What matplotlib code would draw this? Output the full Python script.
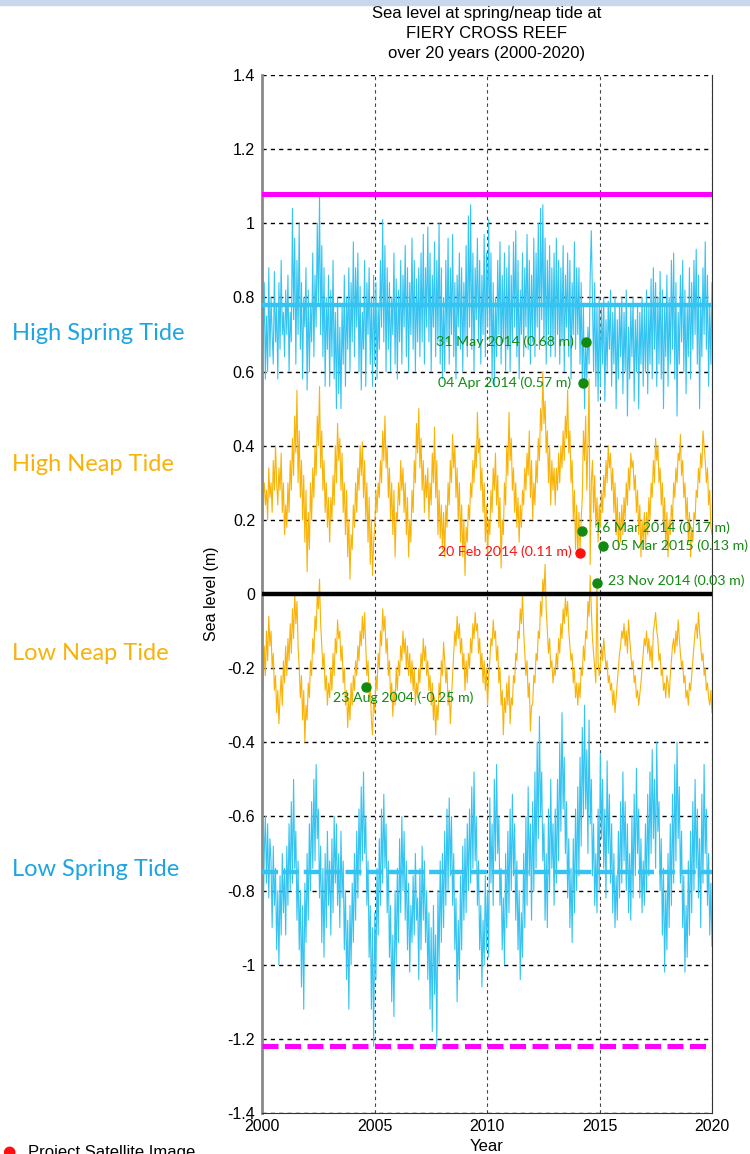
import numpy as np
import matplotlib
matplotlib.use('Agg')
import matplotlib.pyplot as plt
from matplotlib.patches import Rectangle

plt.rcParams['axes.unicode_minus'] = False

# sea level values, in cm, 20 readings per year (2000-2019)
high_spring_cm = [
    92, 66, 84, 58, 75, 60, 88, 64, 80, 70, 62, 87, 68, 78, 58, 84, 66, 90, 70, 76,
    64, 82, 70, 86, 60, 76, 68, 104, 74, 96, 62, 90, 70, 100, 66, 84, 58, 80, 72, 88,
    55, 82, 60, 78, 68, 92, 64, 86, 72, 100, 78, 107, 70, 94, 64, 88, 56, 80, 66, 86,
    56, 82, 64, 90, 58, 76, 50, 80, 54, 72, 50, 78, 62, 86, 56, 80, 66, 88, 60, 84,
    68, 95, 64, 88, 72, 92, 60, 83, 55, 76, 66, 90, 56, 84, 70, 88, 62, 80, 56, 86,
    62, 84, 58, 78, 66, 90, 72, 101, 68, 94, 60, 88, 66, 84, 60, 80, 70, 92, 62, 85,
    58, 82, 68, 90, 62, 86, 72, 94, 64, 88, 60, 84, 70, 96, 66, 90, 60, 85, 68, 88,
    64, 92, 68, 97, 62, 88, 72, 99, 68, 92, 60, 86, 72, 95, 64, 90, 68, 100, 62, 88,
    58, 80, 60, 90, 68, 96, 62, 88, 70, 97, 64, 84, 58, 86, 72, 92, 66, 88, 60, 84,
    68, 94, 64, 102, 72, 105, 66, 92, 60, 88, 74, 96, 68, 90, 62, 86, 70, 97, 64, 92,
    72, 101, 68, 92, 58, 84, 56, 80, 64, 90, 70, 95, 62, 86, 68, 92, 60, 88, 66, 94,
    60, 86, 68, 95, 72, 98, 64, 90, 58, 82, 70, 92, 64, 88, 72, 97, 66, 90, 62, 86,
    68, 96, 64, 92, 72, 100, 66, 104, 74, 105, 68, 96, 62, 90, 70, 94, 64, 88, 68, 92,
    64, 96, 70, 90, 62, 88, 68, 94, 60, 86, 72, 92, 64, 90, 58, 84, 70, 95, 66, 88,
    70, 88, 62, 84, 56, 78, 50, 68, 58, 72, 62, 86, 98, 80, 60, 84, 56, 78, 52, 80,
    56, 78, 62, 80, 52, 74, 60, 79, 66, 82, 56, 76, 62, 80, 50, 74, 58, 78, 64, 80,
    54, 76, 60, 82, 48, 72, 58, 78, 64, 80, 52, 74, 60, 78, 50, 76, 62, 80, 56, 78,
    60, 82, 54, 78, 62, 85, 58, 88, 66, 84, 56, 80, 62, 87, 58, 82, 50, 78, 64, 86,
    56, 80, 62, 90, 66, 92, 58, 84, 48, 76, 62, 86, 68, 90, 60, 82, 54, 78, 64, 88,
    58, 84, 66, 90, 70, 93, 62, 86, 50, 80, 64, 88, 70, 95, 66, 86, 56, 78, 62, 84,
]
high_neap_cm = [
    14, 26, 30, 24, 28, 20, 34, 26, 30, 22, 36, 28, 40, 30, 24, 34, 28, 38, 22, 30,
    16, 24, 18, 30, 22, 36, 28, 42, 32, 48, 38, 55, 30, 44, 26, 36, 20, 32, 14, 28,
    6, 22, 12, 30, 20, 34, 26, 40, 32, 48, 40, 56, 34, 44, 28, 36, 22, 30, 18, 26,
    14, 26, 20, 32, 24, 40, 30, 46, 36, 42, 28, 38, 22, 30, 16, 28, 10, 20, 4, 16,
    12, 24, 18, 30, 22, 34, 28, 40, 32, 41, 26, 36, 20, 30, 14, 26, 8, 20, 5, 14,
    18, 28, 22, 30, 26, 36, 30, 44, 36, 48, 34, 40, 26, 34, 20, 30, 16, 28, 10, 22,
    20, 30, 24, 36, 28, 34, 22, 30, 16, 26, 10, 20, 14, 28, 22, 36, 30, 46, 38, 50,
    34, 42, 28, 36, 22, 32, 26, 34, 20, 30, 24, 38, 30, 45, 26, 36, 16, 28, 15, 24,
    12, 22, 10, 24, 18, 30, 24, 36, 30, 43, 34, 40, 26, 34, 20, 30, 14, 24, 10, 20,
    5, 18, 14, 24, 20, 30, 26, 36, 30, 40, 34, 49, 38, 42, 28, 34, 22, 30, 14, 24,
    10, 20, 16, 28, 22, 34, 28, 38, 24, 32, 18, 26, 7, 20, 16, 30, 24, 40, 32, 49,
    36, 42, 28, 34, 22, 30, 18, 26, 14, 24, 18, 28, 24, 34, 28, 38, 32, 44, 26, 36,
    20, 30, 24, 36, 30, 42, 36, 50, 44, 60, 46, 52, 38, 44, 30, 40, 24, 36, 28, 34,
    24, 34, 28, 38, 30, 40, 34, 44, 36, 48, 42, 55, 38, 44, 30, 36, 20, 28, 12, 24,
    10, 22, 12, 20, 26, 44, 36, 48, 28, 40, 58, 8, 30, 36, 22, 32, 18, 26, 14, 24,
    18, 28, 22, 32, 26, 36, 30, 40, 34, 38, 28, 34, 22, 30, 16, 26, 12, 22, 14, 24,
    16, 26, 20, 30, 24, 34, 28, 38, 34, 36, 28, 32, 22, 28, 16, 24, 10, 20, 14, 22,
    12, 22, 16, 26, 20, 30, 26, 36, 30, 42, 36, 40, 30, 34, 24, 30, 18, 26, 12, 22,
    10, 20, 16, 24, 20, 30, 26, 34, 30, 38, 36, 43, 32, 36, 26, 30, 20, 26, 14, 22,
    10, 18, 14, 22, 20, 28, 26, 34, 30, 38, 34, 44, 40, 36, 30, 34, 24, 28, 18, 16,
]
low_neap_cm = [
    -20, -26, -14, -22, -10, -18, -6, -14, -10, -20, -16, -26, -22, -32, -26, -35, -28, -22, -30, -18,
    -24, -14, -22, -12, -18, -8, -16, -4, -12, 0, -8, -2, -14, -20, -28, -22, -34, -26, -40, -30,
    -34, -24, -28, -18, -22, -12, -16, -6, -10, 0, -4, 4, -8, -14, -20, -16, -26, -22, -30, -24,
    -28, -20, -26, -16, -22, -12, -16, -7, -12, -10, -18, -14, -24, -20, -30, -26, -36, -28, -34, -24,
    -30, -22, -26, -18, -22, -14, -18, -10, -14, -6, -12, -5, -14, -22, -18, -28, -24, -34, -38, -28,
    -32, -22, -26, -16, -20, -10, -14, -4, -10, -6, -16, -12, -22, -18, -28, -24, -33, -26, -30, -20,
    -26, -18, -22, -14, -18, -10, -16, -12, -20, -14, -22, -16, -24, -18, -26, -20, -30, -24, -28, -20,
    -24, -16, -20, -12, -18, -14, -22, -18, -26, -22, -30, -24, -34, -28, -38, -30, -34, -24, -28, -18,
    -22, -13, -18, -24, -20, -30, -26, -35, -28, -22, -16, -10, -14, -6, -12, -8, -16, -12, -20, -16,
    -26, -18, -24, -16, -20, -12, -16, -8, -12, -5, -10, -8, -16, -12, -20, -16, -24, -18, -26, -20,
    -30, -22, -18, -12, -14, -7, -12, -10, -18, -14, -24, -20, -30, -26, -38, -28, -32, -24, -30, -22,
    -35, -28, -30, -22, -24, -16, -18, -10, -12, -4, -8, 0, -10, -16, -22, -18, -28, -24, -37, -30,
    -30, -22, -24, -16, -18, -10, -12, -2, -6, 4, 0, 8, -4, -10, -16, -12, -20, -18, -24, -20,
    -22, -16, -20, -12, -16, -8, -12, -4, -8, -1, -6, -2, -10, -14, -18, -16, -24, -20, -28, -24,
    -30, -24, -28, -20, -22, -14, -18, -10, -12, -2, -6, 5, -4, -12, -16, -20, -24, 3, -18, -22,
    -20, -14, -18, -12, -16, -20, -18, -24, -22, -26, -24, -30, -26, -32, -28, -24, -20, -16, -14, -10,
    -12, -8, -14, -10, -16, -7, -12, -16, -20, -18, -24, -22, -28, -26, -30, -27, -24, -20, -16, -12,
    -14, -10, -16, -12, -18, -14, -20, -10, -8, -5, -10, -12, -18, -16, -22, -20, -26, -24, -28, -22,
    -24, -28, -22, -18, -14, -12, -16, -10, -14, -7, -12, -16, -20, -18, -24, -22, -28, -26, -30, -24,
    -26, -22, -18, -14, -10, -8, -12, -5, -10, -14, -18, -16, -22, -20, -26, -24, -28, -30, -26, -32,
]
low_spring_cm = [
    -65, -88, -70, -60, -78, -62, -82, -66, -72, -90, -68, -84, -74, -96, -80, -100, -76, -92, -70, -86,
    -74, -92, -68, -84, -62, -80, -56, -78, -50, -74, -64, -88, -72, -96, -80, -106, -84, -112, -78, -94,
    -70, -88, -62, -80, -56, -74, -50, -72, -46, -66, -58, -82, -68, -94, -74, -98, -70, -90, -64, -84,
    -72, -92, -66, -86, -60, -78, -62, -84, -70, -90, -64, -82, -72, -96, -80, -104, -88, -112, -84, -100,
    -78, -94, -70, -88, -64, -82, -58, -76, -52, -72, -48, -70, -60, -84, -72, -98, -84, -112, -90, -122,
    -86, -104, -74, -92, -66, -84, -58, -78, -54, -74, -62, -86, -72, -98, -84, -110, -92, -114, -80, -100,
    -74, -94, -66, -86, -60, -80, -64, -88, -72, -96, -78, -102, -84, -94, -76, -92, -70, -88, -82, -104,
    -74, -96, -68, -88, -72, -94, -80, -104, -86, -112, -90, -118, -84, -108, -92, -122, -80, -100, -72, -94,
    -70, -90, -64, -84, -58, -80, -55, -76, -60, -84, -70, -96, -82, -110, -88, -104, -76, -96, -68, -88,
    -66, -86, -62, -80, -58, -78, -52, -74, -48, -72, -60, -84, -72, -96, -84, -106, -88, -100, -76, -96,
    -80, -98, -55, -78, -62, -84, -50, -72, -46, -70, -60, -84, -74, -96, -82, -100, -70, -90, -64, -86,
    -58, -80, -54, -76, -62, -88, -72, -96, -80, -104, -86, -98, -70, -90, -60, -84, -52, -76, -62, -88,
    -56, -80, -48, -74, -40, -66, -33, -60, -48, -72, -62, -88, -70, -90, -58, -80, -50, -74, -62, -84,
    -58, -78, -50, -72, -40, -64, -32, -58, -44, -70, -56, -82, -66, -90, -74, -94, -66, -86, -58, -80,
    -52, -76, -44, -68, -36, -60, -30, -58, -42, -70, -34, -62, -50, -76, -62, -84, -70, -86, -58, -80,
    -43, -66, -50, -74, -58, -82, -45, -70, -54, -78, -62, -86, -70, -90, -76, -88, -64, -82, -56, -78,
    -48, -72, -56, -80, -62, -86, -70, -88, -60, -82, -54, -76, -47, -70, -58, -82, -66, -86, -72, -84,
    -62, -80, -54, -76, -48, -70, -42, -66, -50, -74, -40, -64, -56, -80, -66, -92, -74, -102, -80, -96,
    -70, -90, -62, -84, -54, -78, -46, -72, -40, -66, -52, -78, -64, -90, -76, -102, -84, -98, -72, -92,
    -64, -86, -56, -80, -50, -74, -58, -82, -66, -90, -54, -78, -46, -70, -58, -84, -70, -92, -78, -95,
]

# reference levels (m)
hat_level = 1.08
lat_level = -1.22
mhws_level = 0.78
mlws_level = -0.75

# marked dates (decimal year, sea level m, label)
green_years = [2014.41, 2014.255, 2014.205, 2015.173, 2014.893, 2004.643]
green_levels = [0.68, 0.57, 0.17, 0.13, 0.03, -0.25]
green_labels = ['31 May 2014 (0.68 m)', '04 Apr 2014 (0.57 m)', '16 Mar 2014 (0.17 m)',
                '05 Mar 2015 (0.13 m)', '23 Nov 2014 (0.03 m)', '23 Aug 2004 (-0.25 m)']
red_year, red_level, red_label = 2014.137, 0.11, '20 Feb 2014 (0.11 m)'

y_ticks = [-1.4, -1.2, -1.0, -0.8, -0.6, -0.4, -0.2, 0.0, 0.2, 0.4, 0.6, 0.8, 1.0, 1.2, 1.4]
x_ticks = [2000, 2005, 2010, 2015, 2020]

CYAN = '#35c4f2'
ORANGE = '#f9b308'
GREEN = '#128a12'
ARIAL = ['Liberation Sans', 'DejaVu Sans']
CAL = ['Lato', 'DejaVu Sans']

fig = plt.figure(figsize=(7.5, 11.54), dpi=100)
fig.patches.append(Rectangle((0, 1 - 5 / 1154), 1, 5 / 1154, transform=fig.transFigure,
                             color='#c8d7eb', zorder=0))
ax = fig.add_axes([262 / 750, 41 / 1154, 450 / 750, 1038 / 1154])

for vals in [high_spring_cm, high_neap_cm, low_neap_cm, low_spring_cm]:
    v = np.array(vals) / 100.0
    t = np.linspace(2000, 2020, len(v))
    col = CYAN if vals is high_spring_cm or vals is low_spring_cm else ORANGE
    ax.plot(t, v, color=col, lw=0.8, zorder=2)

ax.axhline(hat_level, color='#ff00ff', lw=3.6, zorder=3)
ax.axhline(lat_level, color='#ff00ff', lw=3.6, dashes=(3.2, 1.3), zorder=3)
ax.axhline(mhws_level, color=CYAN, lw=3.2, zorder=3)
ax.axhline(mlws_level, color=CYAN, lw=3.2, dashes=(3.6, 1.1), zorder=3)
ax.axhline(0, color='black', lw=3.2, zorder=3)

# green markers and labels
text_pos = [(2013.85, 0.68, 'right'), (2013.75, 0.57, 'right'), (2014.76, 0.18, 'left'),
            (2015.56, 0.13, 'left'), (2015.38, 0.035, 'left'), (2003.16, -0.28, 'left')]
for yr, lv, lab, (tx, ty, ha) in zip(green_years, green_levels, green_labels, text_pos):
    ax.plot(yr, lv, 'o', color=GREEN, ms=6.5, zorder=5)
    ax.text(tx, ty, lab, color=GREEN, fontsize=10.2, family=CAL, ha=ha, va='center', zorder=6)
ax.plot(red_year, red_level, 'o', color='#ff1010', ms=6.5, zorder=5)
ax.text(2013.75, 0.115, red_label, color='#ff1010', fontsize=10.2, family=CAL,
        ha='right', va='center', zorder=6)

ax.set_xlim(2000, 2020)
ax.set_ylim(-1.4, 1.4)
ax.set_xticks(x_ticks)
ax.set_yticks(y_ticks)
ax.set_yticklabels(['%g' % round(v, 1) for v in y_ticks])
ax.tick_params(length=0, pad=5, labelsize=11.5)
for lab in ax.get_xticklabels() + ax.get_yticklabels():
    lab.set_family(ARIAL)
ax.tick_params(axis='x', pad=4)
ax.grid(axis='y', color='black', ls=(0, (3, 3)), lw=1.0)
ax.grid(axis='x', color='#444444', ls=(0, (3, 3)), lw=0.8)
ax.spines['top'].set_visible(False)
ax.spines['left'].set_color('#8a8a8a')
ax.spines['left'].set_linewidth(2)
ax.spines['right'].set_color('#333333')
ax.spines['bottom'].set_color('#333333')

ax.set_xlabel('Year', family=ARIAL, fontsize=12, labelpad=4)
ax.set_ylabel('Sea level (m)', family=ARIAL, fontsize=11.5, labelpad=6)
ax.set_title('Sea level at spring/neap tide at\nFIERY CROSS REEF\nover 20 years (2000-2020)',
             family=ARIAL, fontsize=12, linespacing=1.45, pad=12)

# tide labels on the left
fig.text(12 / 750, 1 - 334 / 1154, 'High Spring Tide', color='#1ea5e0', fontsize=17,
         family=CAL, va='center')
fig.text(12 / 750, 1 - 465 / 1154, 'High Neap Tide', color='#f7b30a', fontsize=17,
         family=CAL, va='center')
fig.text(12 / 750, 1 - 654 / 1154, 'Low Neap Tide', color='#f7b30a', fontsize=17,
         family=CAL, va='center')
fig.text(12 / 750, 1 - 869 / 1154, 'Low Spring Tide', color='#1ea5e0', fontsize=17,
         family=CAL, va='center')

# partial legend at the bottom
fig.text(2 / 750, 1 - 1151 / 1154, '\u25cf', color='#ff1010', fontsize=11, va='center')
fig.text(28 / 750, 1 - 1153 / 1154, 'Project Satellite Image', color='black', fontsize=12,
         family=ARIAL, va='center')

fig.savefig('out.png', dpi=100)
